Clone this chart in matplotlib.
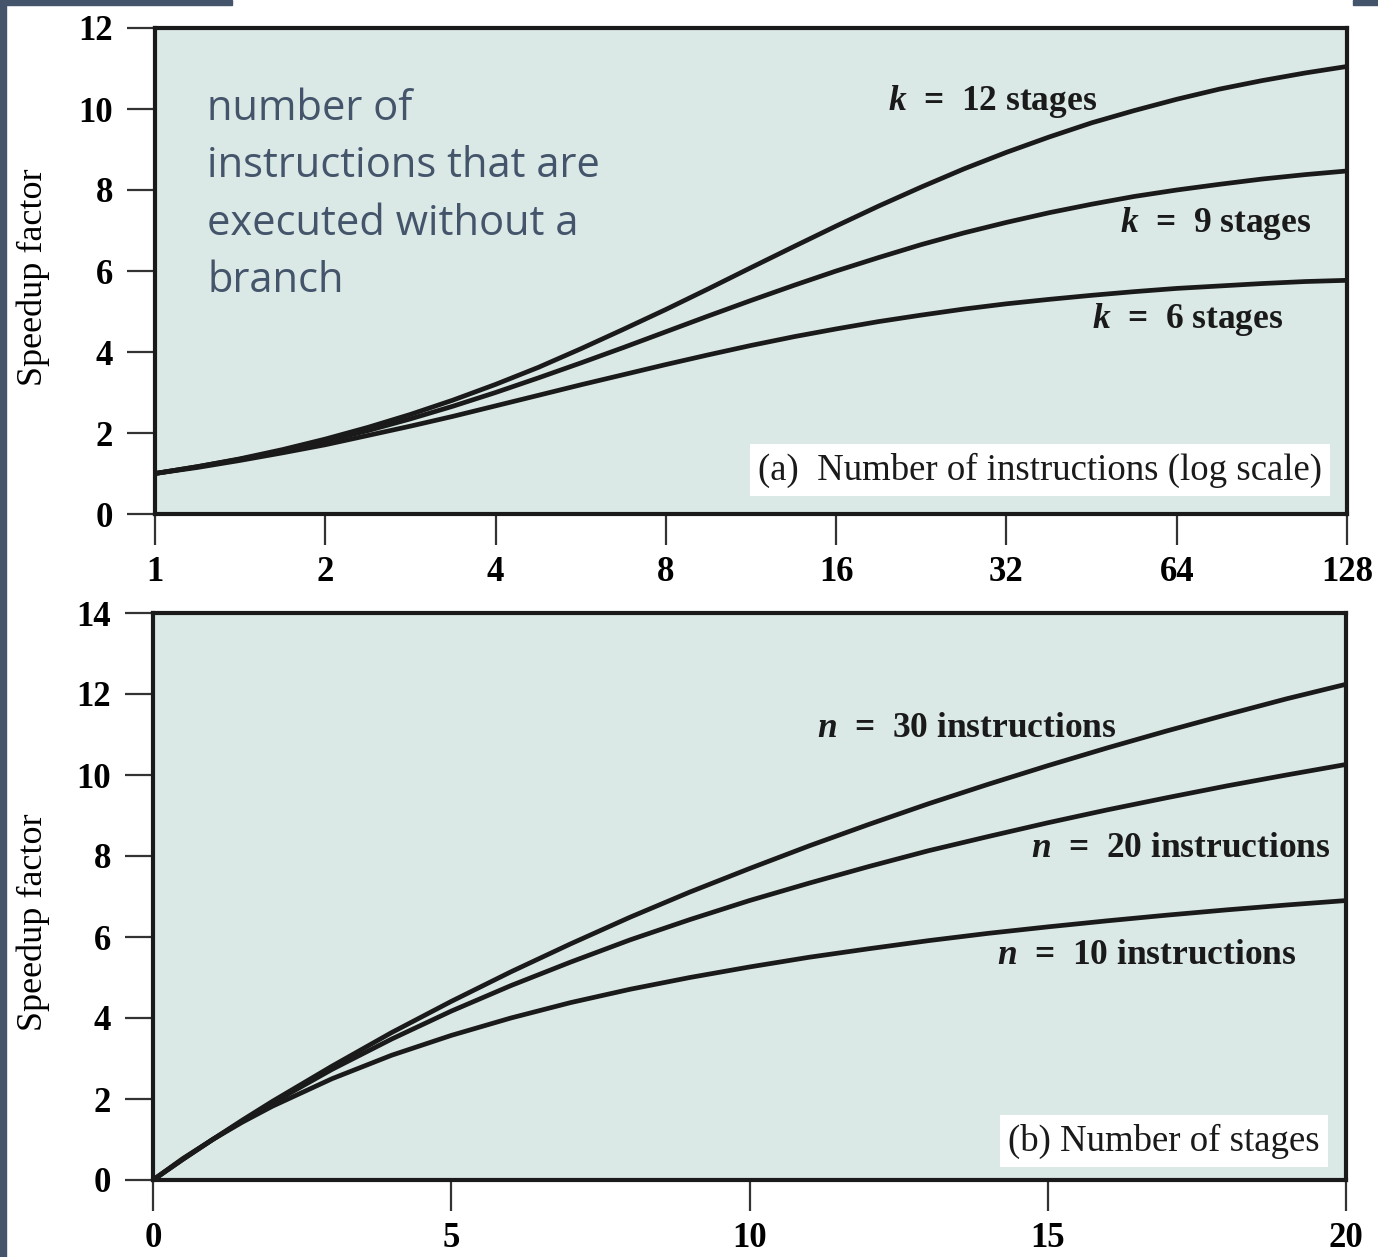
import matplotlib
matplotlib.use("Agg")
import matplotlib.pyplot as plt
from matplotlib.patches import Rectangle
from matplotlib.ticker import FixedLocator, NullLocator

SLATE, BG, INK = "#44546A", "#DAE8E6", "#1a1a1a"
SERIF = "Liberation Serif"

plt.rcParams["mathtext.fontset"] = "custom"
plt.rcParams["mathtext.it"] = "Liberation Serif:italic:bold"
plt.rcParams["mathtext.rm"] = "Liberation Serif:bold"

# (a) speedup vs number of instructions n (log2 axis), one curve per stage count k
n_instr = [1, 1.19, 1.41, 1.68, 2, 2.38, 2.83, 3.36, 4, 4.76, 5.66, 6.73, 8, 9.51, 11.3,
           13.5, 16, 19, 22.6, 26.9, 32, 38.1, 45.3, 53.8, 64, 76.1, 90.5, 108, 128]
speed_k6 = [1.00, 1.15, 1.32, 1.51, 1.71, 1.94, 2.17, 2.41, 2.67, 2.93, 3.19, 3.44, 3.69,
            3.93, 4.16, 4.38, 4.57, 4.75, 4.91, 5.06, 5.19, 5.30, 5.40, 5.49, 5.57, 5.63,
            5.69, 5.74, 5.77]
speed_k9 = [1.00, 1.17, 1.35, 1.56, 1.80, 2.06, 2.35, 2.66, 3.00, 3.36, 3.73, 4.11, 4.50,
            4.89, 5.27, 5.65, 6.00, 6.33, 6.65, 6.94, 7.20, 7.44, 7.65, 7.84, 8.00, 8.14,
            8.27, 8.38, 8.47]
speed_k12 = [1.00, 1.17, 1.36, 1.59, 1.85, 2.14, 2.46, 2.81, 3.20, 3.62, 4.08, 4.56, 5.05,
             5.56, 6.08, 6.61, 7.11, 7.60, 8.07, 8.52, 8.93, 9.31, 9.66, 9.96, 10.24, 10.49,
             10.70, 10.89, 11.05]
a_xticks = [1, 2, 4, 8, 16, 32, 64, 128]

# (b) speedup vs number of stages k, one curve per instruction count n
stages = [0, 0.5, 1, 1.5, 2, 3, 4, 5, 6, 7, 8, 9, 10, 11, 12, 13, 14, 15, 16, 17, 18, 19, 20]
speed_n10 = [0, 0.53, 1.00, 1.43, 1.82, 2.50, 3.08, 3.57, 4.00, 4.38, 4.71, 5.00, 5.26, 5.50,
             5.71, 5.91, 6.09, 6.25, 6.40, 6.54, 6.67, 6.79, 6.90]
speed_n20 = [0, 0.51, 1.00, 1.46, 1.90, 2.73, 3.48, 4.17, 4.80, 5.38, 5.93, 6.43, 6.90, 7.33,
             7.74, 8.13, 8.48, 8.82, 9.14, 9.44, 9.73, 10.00, 10.26]
speed_n30 = [0, 0.51, 1.00, 1.48, 1.94, 2.81, 3.64, 4.41, 5.14, 5.83, 6.49, 7.11, 7.69, 8.25,
             8.78, 9.29, 9.77, 10.23, 10.67, 11.09, 11.49, 11.88, 12.24]
b_xticks = [0, 5, 10, 15, 20]

W, H = 1378, 1257
fig = plt.figure(figsize=(W / 100, H / 100), dpi=100)


def px_axes(x0, y0, x1, y1):
    return fig.add_axes([x0 / W, 1 - y1 / H, (x1 - x0) / W, (y1 - y0) / H])


def style(ax, xlen):
    ax.set_facecolor(BG)
    for s in ax.spines.values():
        s.set_linewidth(3)
        s.set_color(INK)
    ax.tick_params(axis="y", direction="out", length=20, width=1.6, color="#333333", pad=10,
                   labelsize=25)
    ax.tick_params(axis="x", direction="out", length=xlen, width=1.6, color="#333333", pad=8,
                   labelsize=25)
    for lab in ax.get_xticklabels() + ax.get_yticklabels():
        lab.set_fontfamily(SERIF)
        lab.set_fontweight("bold")


lab_kw = dict(family=SERIF, fontsize=25.5, fontweight="bold", color=INK, va="baseline")
box_kw = dict(boxstyle="square,pad=0.22", fc="white", ec="none")

# ---- (a) ----
ax = px_axes(155, 28, 1347, 514)
for y in (speed_k12, speed_k9, speed_k6):
    ax.plot(n_instr, y, color=INK, lw=3.4, solid_capstyle="butt")
ax.set_xscale("log", base=2)
ax.set_xlim(1, 128)
ax.set_ylim(0, 12)
ax.xaxis.set_major_locator(FixedLocator(a_xticks))
ax.xaxis.set_minor_locator(NullLocator())
ax.set_xticks(a_xticks, [str(t) for t in a_xticks])
ax.set_yticks(range(0, 13, 2))
style(ax, 22)
ax.set_ylabel("Speedup factor", family=SERIF, fontsize=26)
ax.yaxis.set_label_coords(-0.088, 0.488)
ax.text(19.8, 9.98, "$k$  =  12 stages", **lab_kw)
ax.text(50.8, 6.96, "$k$  =  9 stages", **lab_kw)
ax.text(45.3, 4.59, "$k$  =  6 stages", **lab_kw)
ax.text(0.979, 0.0905, "(a)  Number of instructions (log scale)", transform=ax.transAxes,
        ha="right", va="center", family=SERIF, fontsize=26.5, color=INK, bbox=box_kw)
ax.text(0.044, 0.457, "number of\ninstructions that are\nexecuted without a\nbranch",
        transform=ax.transAxes, ha="left", va="baseline", family="Open Sans", fontsize=30,
        color=SLATE, linespacing=1.48)

# ---- (b) ----
ax = px_axes(153, 613, 1346, 1180)
for y in (speed_n30, speed_n20, speed_n10):
    ax.plot(stages, y, color=INK, lw=3.4, solid_capstyle="butt")
ax.set_xlim(0, 20)
ax.set_ylim(0, 14)
ax.set_xticks(b_xticks)
ax.set_yticks(range(0, 15, 2))
style(ax, 22)
ax.set_ylabel("Speedup factor", family=SERIF, fontsize=26)
ax.yaxis.set_label_coords(-0.086, 0.455)
ax.text(11.13, 10.95, "$n$  =  30 instructions", **lab_kw)
ax.text(14.72, 7.98, "$n$  =  20 instructions", **lab_kw)
ax.text(14.15, 5.33, "$n$  =  10 instructions", **lab_kw)
ax.text(0.978, 0.069, "(b) Number of stages", transform=ax.transAxes,
        ha="right", va="center", family=SERIF, fontsize=26.5, color=INK, bbox=box_kw)

# slide frame remnants
for x0, y0, w, h in [(0, 0, 6, H), (0, 0, 232, 5), (1353, 0, 25, 5)]:
    fig.patches.append(Rectangle((x0 / W, 1 - (y0 + h) / H), w / W, h / H,
                                 transform=fig.transFigure, color=SLATE, zorder=10))

fig.savefig("out.png", dpi=100)
